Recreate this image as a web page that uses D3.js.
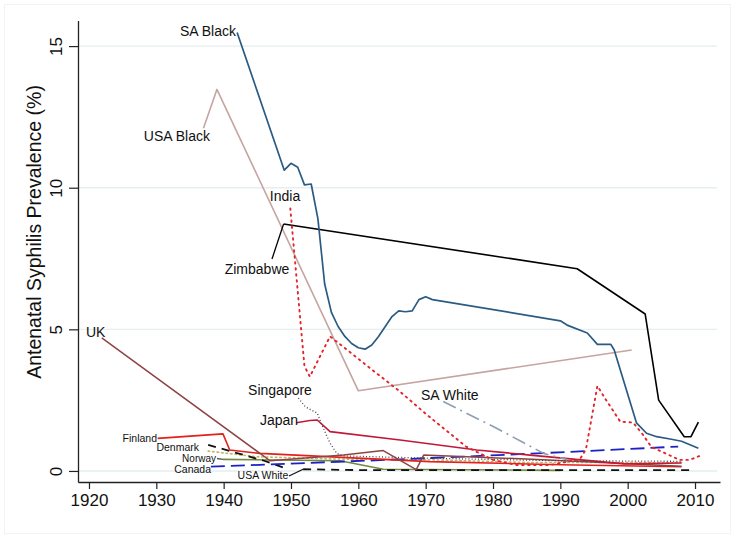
<!DOCTYPE html>
<html>
<head>
<meta charset="utf-8">
<script src="https://cdn.jsdelivr.net/npm/d3@7"></script>
<style>
  html, body { margin: 0; padding: 0; background: #fff; }
  svg { display: block; font-family: "Liberation Sans", Arial, Helvetica, sans-serif; }
</style>
</head>
<body>
<svg id="chart" width="737" height="537"></svg>
<script>
// ---- data (year, prevalence %) ----
const saBlack = [[1942,15.48],[1949,10.62],[1950,10.86],[1951,10.72],[1952,10.1],[1953,10.13],[1954,8.9],[1955,6.6],[1956,5.6],[1957,5.1],[1958,4.75],[1959,4.5],[1960,4.35],[1961,4.3],[1962,4.45],[1963,4.75],[1964,5.1],[1965,5.45],[1966,5.65],[1967,5.62],[1968,5.65],[1969,6.05],[1970,6.15],[1971,6.05],[1990,5.3],[1991,5.15],[1994,4.87],[1995.5,4.47],[1997.5,4.47],[1998,4.27],[2001.3,1.7],[2002.8,1.33],[2004.3,1.21],[2006.5,1.12],[2008,1.05],[2010.5,0.8]];
const usaBlack = [[1937,12.1],[1939,13.47],[1960,2.83],[2000.6,4.27]];
const india = [[1949.9,9.27],[1952,3.7],[1952.8,3.33],[1955.8,4.75],[1962.7,3.45],[1966.2,2.8],[1970,2.02],[1976,0.86],[1980,0.39],[1983.5,0.21],[1988.5,0.21],[1992.9,0.41],[1993.8,0.76],[1995.5,3.0],[1996.8,2.5],[1998.9,1.74],[2000.8,1.71],[2002.3,1.27],[2003.5,0.85],[2007.7,0.39],[2009.2,0.39],[2011,0.56]];
const zimbabwe = [[1948.9,8.72],[1992.5,7.14],[2002.6,5.54],[2004.6,2.5],[2008.4,1.21],[2009.4,1.21],[2010.5,1.72]];
const uk = [[1921.9,4.7],[1946.9,0.36],[1957.8,0.56],[1963.7,0.72],[1968.6,0.05],[1969.7,0.56],[1985,0.42],[2008,0.17]];
const finland = [[1930.2,1.15],[1939.9,1.31],[1940.9,0.74],[1945.4,0.62],[1970.6,0.33],[1990,0.22],[2008,0.15]];
const japan = [[1950.8,1.7],[1952.8,1.78],[1953.9,1.8],[1955.8,1.39],[1966.2,1.09],[1977.6,0.74],[1985.5,0.56],[1999.5,0.25],[2008,0.28]];
const singapore = [[1951.1,2.57],[1952.1,2.27],[1953.9,2.04],[1954.6,1.62],[1955.8,0.98],[1956.8,0.62],[1957.8,0.53],[1970.6,0.45],[1990,0.36],[2008,0.34]];
const saWhite = [[1972.6,2.45],[1980.6,1.5],[1987.5,0.62],[1991,0.4]];
const canada = [[1938.1,0.15],[1966.2,0.41],[1987.5,0.63],[2007.5,0.86]];
const denmark = [[1937.7,0.92],[1946,0.36],[1949.6,0.06]];
const usaWhite = [[1951.8,0.06],[1960,0.03],[2010,0.03]];
const norway = [[1939.9,0.41],[1957.3,0.36],[1963.7,0.06],[1990,0.02]];
const otherDotted = [[1937.7,0.7],[1945,0.5],[1957,0.42],[1970,0.4],[1985,0.3],[2008,0.3]];

const yTicks = [0, 5, 10, 15];
const xTicks = [1920, 1930, 1940, 1950, 1960, 1970, 1980, 1990, 2000, 2010];

// ---- layout ----
const svg = d3.select("#chart");
const x = d3.scaleLinear().domain([1918.37, 2013.71]).range([78, 720]);
const y = d3.scaleLinear().domain([-0.39, 15.9]).range([482, 20.6]);

// faint outer frame
svg.append("rect").attr("x", 4.5).attr("y", 4.5).attr("width", 726).attr("height", 529)
  .attr("fill", "none").attr("stroke", "#f2f4f4").attr("stroke-width", 1);

// gridlines
svg.append("g").selectAll("line").data(yTicks).join("line")
  .attr("x1", 78).attr("x2", 717)
  .attr("y1", d => y(d)).attr("y2", d => y(d))
  .attr("stroke", "#e5eef0").attr("stroke-width", 1.4);

// series
const line = d3.line().x(d => x(d[0])).y(d => y(d[1]));
const series = [
  { data: otherDotted, color: "#c4b46a", w: 1.6, dash: "1.5,3", cap: "round" },
  { data: norway, color: "#6f8c3c", w: 1.6 },
  { data: usaWhite, color: "#111", w: 1.8, dash: "8,6" },
  { data: denmark, color: "#111", w: 1.8, dash: "8,6" },
  { data: canada, color: "#1c22c4", w: 1.8, dash: "14,6" },
  { data: finland, color: "#e2201c", w: 1.6 },
  { data: uk, color: "#8f4444", w: 1.5 },
  { data: japan, color: "#c01838", w: 1.6 },
  { data: singapore, color: "#444", w: 1.3, dash: "1,2.2" },
  { data: saWhite, color: "#8e9eb2", w: 1.6, dash: "14,5,2,5" },
  { data: usaBlack, color: "#c6a4a0", w: 1.6 },
  { data: zimbabwe, color: "#000", w: 1.6 },
  { data: saBlack, color: "#2b5b82", w: 1.7 },
  { data: india, color: "#e3242b", w: 1.9, dash: "1.5,4.5", cap: "round" }
];
svg.append("g").selectAll("path").data(series).join("path")
  .attr("d", s => line(s.data))
  .attr("fill", "none")
  .attr("stroke", s => s.color)
  .attr("stroke-width", s => s.w)
  .attr("stroke-dasharray", s => s.dash || null)
  .attr("stroke-linecap", s => s.cap || "butt")
  .attr("stroke-linejoin", "round");

// axes
const yAxis = svg.append("g").attr("transform", "translate(78,0)")
  .call(d3.axisLeft(y).tickValues(yTicks).tickSize(9).tickSizeOuter(0));
yAxis.selectAll("text")
  .attr("x", null).attr("dy", null)
  .attr("text-anchor", "middle")
  .attr("transform", "translate(-16,0) rotate(-90)")
  .attr("font-size", 17).attr("fill", "#111");
const xAxis = svg.append("g").attr("transform", "translate(0,482)")
  .call(d3.axisBottom(x).tickValues(xTicks).tickFormat(d3.format("d")).tickSize(7).tickPadding(5).tickSizeOuter(0));
xAxis.selectAll("text").attr("font-size", 17).attr("fill", "#111");
[yAxis, xAxis].forEach(a => {
  a.select(".domain").attr("stroke", "#222").attr("stroke-width", 1.3);
  a.selectAll(".tick line").attr("stroke", "#222").attr("stroke-width", 1.2);
});

// y title
svg.append("text").attr("transform", "translate(41,232) rotate(-90)")
  .attr("text-anchor", "middle").attr("font-size", 19.5).attr("fill", "#111")
  .text("Antenatal Syphilis Prevalence (%)");

// series labels
const labels = [
  { t: "SA Black", x: 236, y: 36, a: "end", s: 14 },
  { t: "USA Black", x: 210, y: 141, a: "end", s: 14 },
  { t: "India", x: 285, y: 201, a: "middle", s: 14 },
  { t: "Zimbabwe", x: 257, y: 274, a: "middle", s: 14 },
  { t: "UK", x: 86, y: 337, a: "start", s: 14 },
  { t: "Singapore", x: 280, y: 395, a: "middle", s: 14 },
  { t: "Japan", x: 279, y: 425, a: "middle", s: 14 },
  { t: "SA White", x: 421, y: 400, a: "start", s: 14 },
  { t: "Finland", x: 157, y: 442, a: "end", s: 10.5 },
  { t: "Denmark", x: 199, y: 451, a: "end", s: 10.5 },
  { t: "Norway", x: 216, y: 461.5, a: "end", s: 10 },
  { t: "Canada", x: 211, y: 472.5, a: "end", s: 10.5 },
  { t: "USA White", x: 263, y: 479, a: "middle", s: 10.5 }
];
svg.append("g").selectAll("text").data(labels).join("text")
  .attr("x", d => d.x).attr("y", d => d.y)
  .attr("text-anchor", d => d.a).attr("font-size", d => d.s).attr("fill", "#111")
  .text(d => d.t);

// label connectors
const connectors = [
  { p1: [272, 259], d: zimbabwe[0], color: "#000" },
  { p1: [289, 476], d: usaWhite[0], color: "#111" },
  { p1: [217, 458.5], d: norway[0], color: "#555" }
];
svg.append("g").selectAll("line").data(connectors).join("line")
  .attr("x1", c => c.p1[0]).attr("y1", c => c.p1[1])
  .attr("x2", c => x(c.d[0])).attr("y2", c => y(c.d[1]))
  .attr("stroke", c => c.color).attr("stroke-width", 1.3);
</script>
</body>
</html>
